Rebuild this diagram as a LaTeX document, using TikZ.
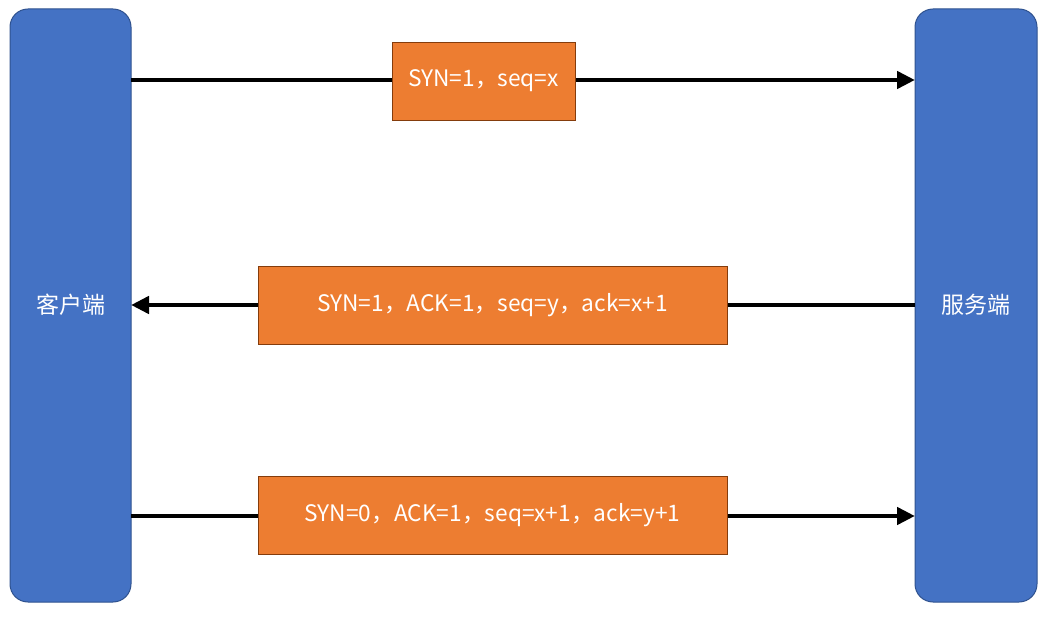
\documentclass[tikz,border=0pt]{standalone}
\usepackage{fontspec}
\setmainfont{Noto Sans CJK SC}
\usetikzlibrary{arrows.meta}
\definecolor{bfill}{HTML}{4472C4}
\definecolor{bdraw}{HTML}{2F528F}
\definecolor{ofill}{HTML}{ED7D31}
\definecolor{odraw}{HTML}{843C0C}
\begin{document}
\begin{tikzpicture}[x=1pt,y=-1pt,
  side/.style={draw=bdraw,fill=bfill,line width=1pt,rounded corners=18pt},
  lbl/.style={text=white,font=\fontsize{23}{26}\selectfont},
  msg/.style={draw=odraw,fill=ofill,line width=0.8pt,text=white,font=\fontsize{22.7}{26}\selectfont},
  conn/.style={line width=4.5pt,-{Triangle[length=18pt,width=17pt]}}]
\useasboundingbox (0,0) rectangle (1050,620);
\path[side] (10,9) rectangle (131,602);
\path[side] (915,9) rectangle (1037,602);
\node[lbl] (client) at (70.5,305) {客户端};
\node[lbl] (server) at (976,305) {服务端};
\coordinate (cl1) at (131,80);
\coordinate (sr1) at (915,80);
\coordinate (cl2) at (131,305);
\coordinate (sr2) at (915,305);
\coordinate (cl3) at (131,516);
\coordinate (sr3) at (915,516);
\draw[conn] (cl1) -- (sr1);
\draw[conn] (sr2) -- (cl2);
\draw[conn] (cl3) -- (sr3);
\node[msg,minimum width=183pt,minimum height=78pt] (m1) at (483.5,81) {SYN=1，seq=x};
\node[msg,minimum width=469pt,minimum height=78pt] (m2) at (492.5,305) {SYN=1，ACK=1，seq=y，ack=x+1};
\node[msg,minimum width=469pt,minimum height=78pt] (m3) at (492.5,515.5) {SYN=0，ACK=1，seq=x+1，ack=y+1};
\end{tikzpicture}
\end{document}
